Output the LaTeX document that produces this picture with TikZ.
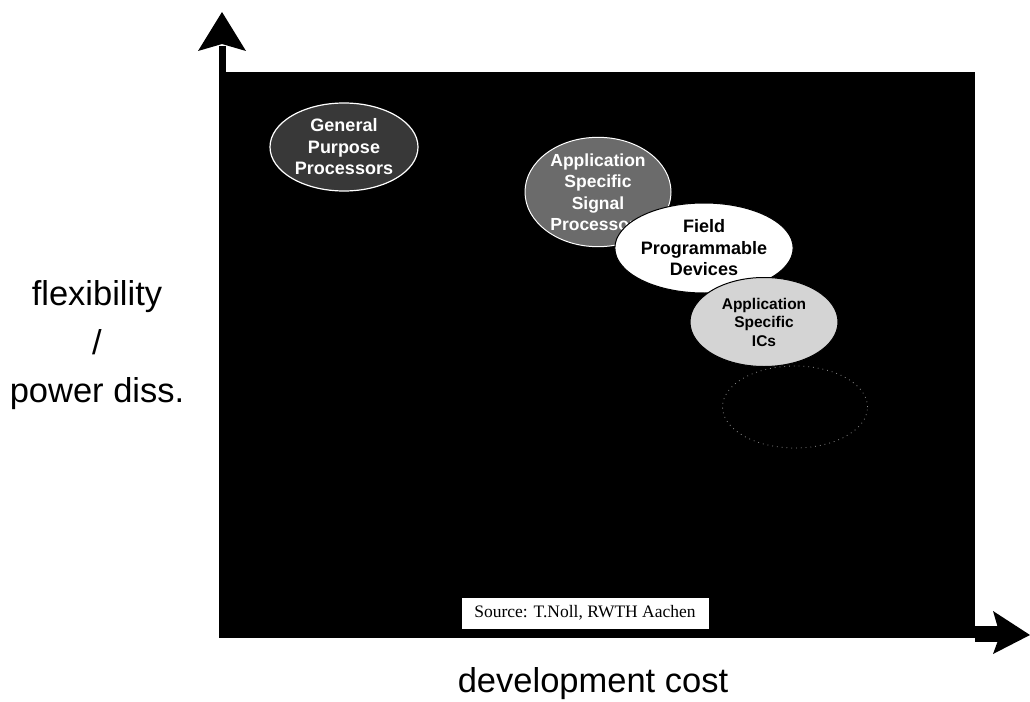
\documentclass[tikz,border=0pt]{standalone}
\usepackage{fontspec}
\setmainfont{Liberation Sans}
\newfontfamily\serifsrc{Liberation Serif}
\usetikzlibrary{shapes.geometric}
\begin{document}
\begin{tikzpicture}[x=1pt,y=-1pt,
  axislabel/.style={font=\fontsize{34.5}{40}\selectfont, text=black, inner sep=0pt, anchor=base},
  blob/.style={ellipse, minimum width=148pt, minimum height=90pt, inner sep=0pt,
    align=center, font=\bfseries\fontsize{18}{21.5}\selectfont},
  srcbox/.style={fill=white, draw=white, minimum width=246pt, minimum height=30pt,
    inner sep=0pt, font=\serifsrc\fontsize{17.5}{20}\selectfont},
]
\useasboundingbox (0,0) rectangle (1030,701);
\fill[white] (0,0) rectangle (1030,701);

% plot area
\fill[black] (219,72) rectangle (975,638);

% vertical axis: shaft and notched head
\fill[black] (219,46) rectangle (226,72);
\fill[black] (222,12) -- (246,51) -- (222,44) -- (198,51) -- cycle;
% horizontal axis: shaft and notched head
\fill[black] (975,626) rectangle (1002,642);
\fill[black] (1030,635) -- (993,654) -- (1000,635) -- (993,611) -- cycle;

% axis labels
\node[axislabel] (ylab1) at (97,305) {flexibility};
\node[axislabel] (ylab2) at (97,354) {/};
\node[axislabel] (ylab3) at (97,402) {power diss.};
\node[axislabel] (xlab) at (593,692) {development cost};

% implementation styles
\node[blob, fill=black!78, draw=white, line width=1.2pt, text=white,
      minimum width=148pt, minimum height=88pt] (gpp) at (344,147)
      {General\\Purpose\\Processors};
\node[blob, fill=black!58, draw=white, line width=1pt, text=white,
      minimum width=146pt, minimum height=89pt, font=\bfseries\fontsize{17.5}{21.5}\selectfont]
      (assp) at (598,192) {Application\\Specific\\Signal\\Processors};
\node[blob, fill=white, draw=black, line width=1pt, text=black,
      minimum width=148pt, minimum height=90pt] (fpd) at (704,248)
      {Field\\Programmable\\Devices};
\node[ellipse, fill=black, draw=black!45, loosely dotted, line width=0.8pt,
      minimum width=145pt, minimum height=82pt] (poic) at (795,407) {};
\node[blob, fill=black!17, draw=black, line width=1pt, text=black,
      minimum width=148pt, minimum height=89pt,
      font=\bfseries\fontsize{15.5}{18.5}\selectfont] (asic) at (764,322)
      {Application\\Specific\\ICs};

% reference note
\node[srcbox] (src) at (585,613) {Source: T.Noll, RWTH Aachen};
\end{tikzpicture}
\end{document}
